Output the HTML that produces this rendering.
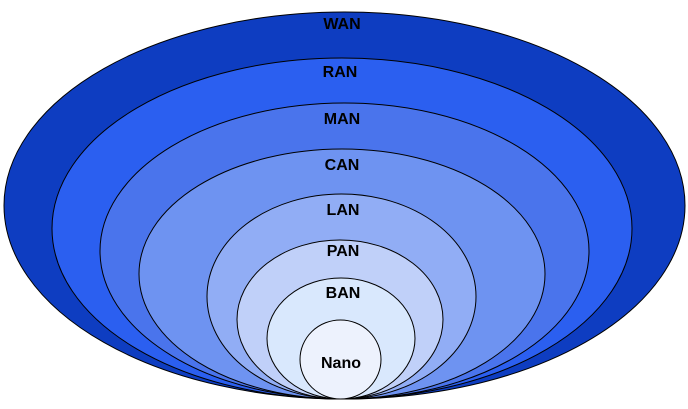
<!DOCTYPE html>
<html><head><meta charset="utf-8"><style>
html,body{margin:0;padding:0;background:#fff;width:688px;height:409px;overflow:hidden}
svg{display:block}
text{font-family:"Liberation Sans",sans-serif;font-weight:bold;font-size:16px;fill:#000;text-anchor:middle}
</style></head><body>
<svg width="688" height="409" viewBox="0 0 688 409" xmlns="http://www.w3.org/2000/svg">
<g stroke="#000" stroke-width="1">
<ellipse cx="344.5" cy="205.5" rx="340.5" ry="193.5" fill="#0e3dc1"/>
<ellipse cx="342" cy="228.5" rx="290" ry="170.5" fill="#2b5ff0"/>
<ellipse cx="344.5" cy="251" rx="244.5" ry="148" fill="#4a74ec"/>
<ellipse cx="342" cy="274" rx="203" ry="125" fill="#6e93f1"/>
<ellipse cx="341.5" cy="296.5" rx="134.5" ry="102.5" fill="#91adf5"/>
<ellipse cx="340" cy="319.5" rx="103" ry="79.5" fill="#c0d0f9"/>
<ellipse cx="341" cy="338.5" rx="74" ry="60.5" fill="#d9e8fd"/>
<ellipse cx="340.5" cy="359.5" rx="40.5" ry="39.5" fill="#edf2fd"/>
</g>
<text x="342" y="29">WAN</text>
<text x="340" y="77">RAN</text>
<text x="342" y="124">MAN</text>
<text x="342" y="170">CAN</text>
<text x="343" y="215">LAN</text>
<text x="343" y="256">PAN</text>
<text x="343" y="298">BAN</text>
<text x="341" y="368">Nano</text>
</svg>
</body></html>
